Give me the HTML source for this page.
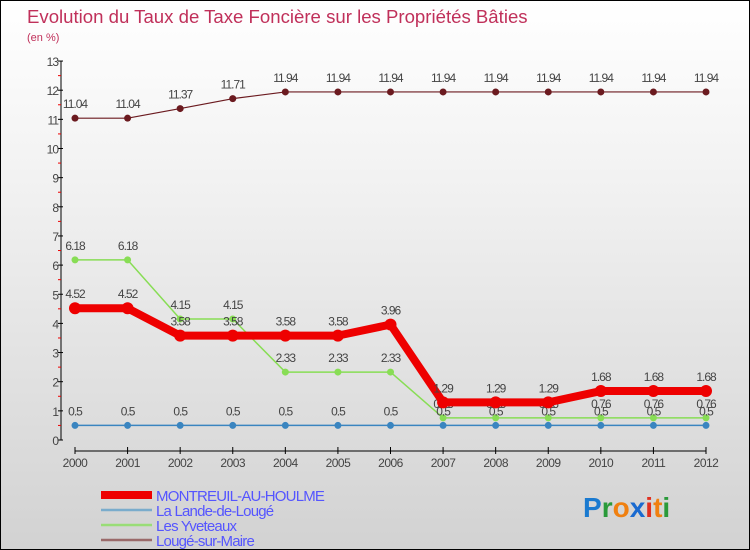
<!DOCTYPE html>
<html><head><meta charset="utf-8"><style>
body{margin:0}
#c{position:relative;width:748px;height:548px;border:1px solid #000;background:linear-gradient(#ffffff,#f3f3f3 30%,#d2d2d2);overflow:hidden;font-family:"Liberation Sans",sans-serif}
</style></head><body>
<div id="c">
<svg id="s" width="748" height="548"></svg>
</div>
<script>
const years=[2000,2001,2002,2003,2004,2005,2006,2007,2008,2009,2010,2011,2012];
const yTicks=[0,1,2,3,4,5,6,7,8,9,10,11,12,13];
const montreuil=[4.52,4.52,3.58,3.58,3.58,3.58,3.96,1.29,1.29,1.29,1.68,1.68,1.68];
const lande=[0.5,0.5,0.5,0.5,0.5,0.5,0.5,0.5,0.5,0.5,0.5,0.5,0.5];
const yveteaux=[6.18,6.18,4.15,4.15,2.33,2.33,2.33,0.76,0.76,0.76,0.76,0.76,0.76];
const louge=[11.04,11.04,11.37,11.71,11.94,11.94,11.94,11.94,11.94,11.94,11.94,11.94,11.94];
const NS='http://www.w3.org/2000/svg';
const s=document.getElementById('s');
const X=i=>74+i*(631/12);
const Y=v=>439-v*29.15;
function el(t,a,p){const e=document.createElementNS(NS,t);for(const k in a)e.setAttribute(k,a[k]);(p||s).appendChild(e);return e;}
function tx(x,y,str,a){const e=el('text',Object.assign({x:x,y:y,'font-family':'Liberation Sans, sans-serif'},a));e.textContent=str;return e;}
let t=tx(26,22,'Evolution du Taux de Taxe Foncière sur les Propriétés Bâties',{'font-size':18.6,fill:'#c0305a'});


t=tx(26,40,'(en %)',{'font-size':11,fill:'#c0305a'});


let ax=el('line',{x1:60,y1:Y(13),x2:60,y2:Y(0),stroke:'#000','stroke-width':1});


yTicks.forEach(v=>{
 el('line',{x1:57,x2:62,y1:Y(v),y2:Y(v),stroke:'#000'});
 if(v<13){el('line',{x1:57,x2:60,y1:Y(v+0.5),y2:Y(v+0.5),stroke:'#e00'});}
 const l=tx(57,Y(v)+5,String(v),{'font-size':12,fill:'#444','text-anchor':'end','letter-spacing':'-1'});
 
 
});
ax=el('line',{x1:X(0),y1:450,x2:X(12),y2:450,stroke:'#000'});


years.forEach((y,i)=>{
 el('line',{x1:X(i),x2:X(i),y1:446,y2:453,stroke:'#000'});
 const l=tx(X(i),466,String(y),{'font-size':12,fill:'#444','text-anchor':'middle','letter-spacing':'-0.5'});
 
 
});
function series(vals,col,w,r,name){
 const g=el('g',{});
 
 
 el('polyline',{points:vals.map((v,i)=>X(i)+','+Y(v)).join(' '),fill:'none',stroke:col,'stroke-width':w,'stroke-linejoin':'round'},g);
 vals.forEach((v,i)=>{
  const c=el('circle',{cx:X(i),cy:Y(v),r:r,fill:col},g);
  
  
  tx(X(i),Y(v)-10,String(v),{'font-size':12,fill:'#444','text-anchor':'middle','letter-spacing':'-1'},g);
 });
}
series(louge,'#6b1a1f',1.2,3.5,'series-louge');
series(yveteaux,'#88dd55',1.5,3.5,'series-yveteaux');
series(lande,'#3a85c0',1.5,3.5,'series-lande');
series(montreuil,'#ee0000',8,6,'series-montreuil');
const leg=[['MONTREUIL-AU-HOULME','#ee0000',8],['La Lande-de-Lougé','#7aaccc',2.5],['Les Yveteaux','#99dd77',2.5],['Lougé-sur-Maire','#9a6a6a',2.5]];
leg.forEach((l,i)=>{
 const y=494+i*15;
 const g=el('g',{});
 
 
 el('line',{x1:100,x2:151,y1:y,y2:y,stroke:l[1],'stroke-width':l[2]},g);
 tx(155,y+6,l[0],{'font-size':15,fill:'#5555ff','letter-spacing':'-0.8'},g);
});
const lg=el('text',{x:582,y:516,'font-family':'Liberation Sans, sans-serif','font-size':28,'font-weight':'bold'});


[['P','#1a7ad0'],['r','#2a9a3a'],['o','#f08010'],['x','#1a6ad0'],['i','#e03020'],['t','#f08010'],['i','#2a9a3a']].forEach(p=>{const ts=el('tspan',{fill:p[1]},lg);ts.textContent=p[0];});
</script>
</body></html>
